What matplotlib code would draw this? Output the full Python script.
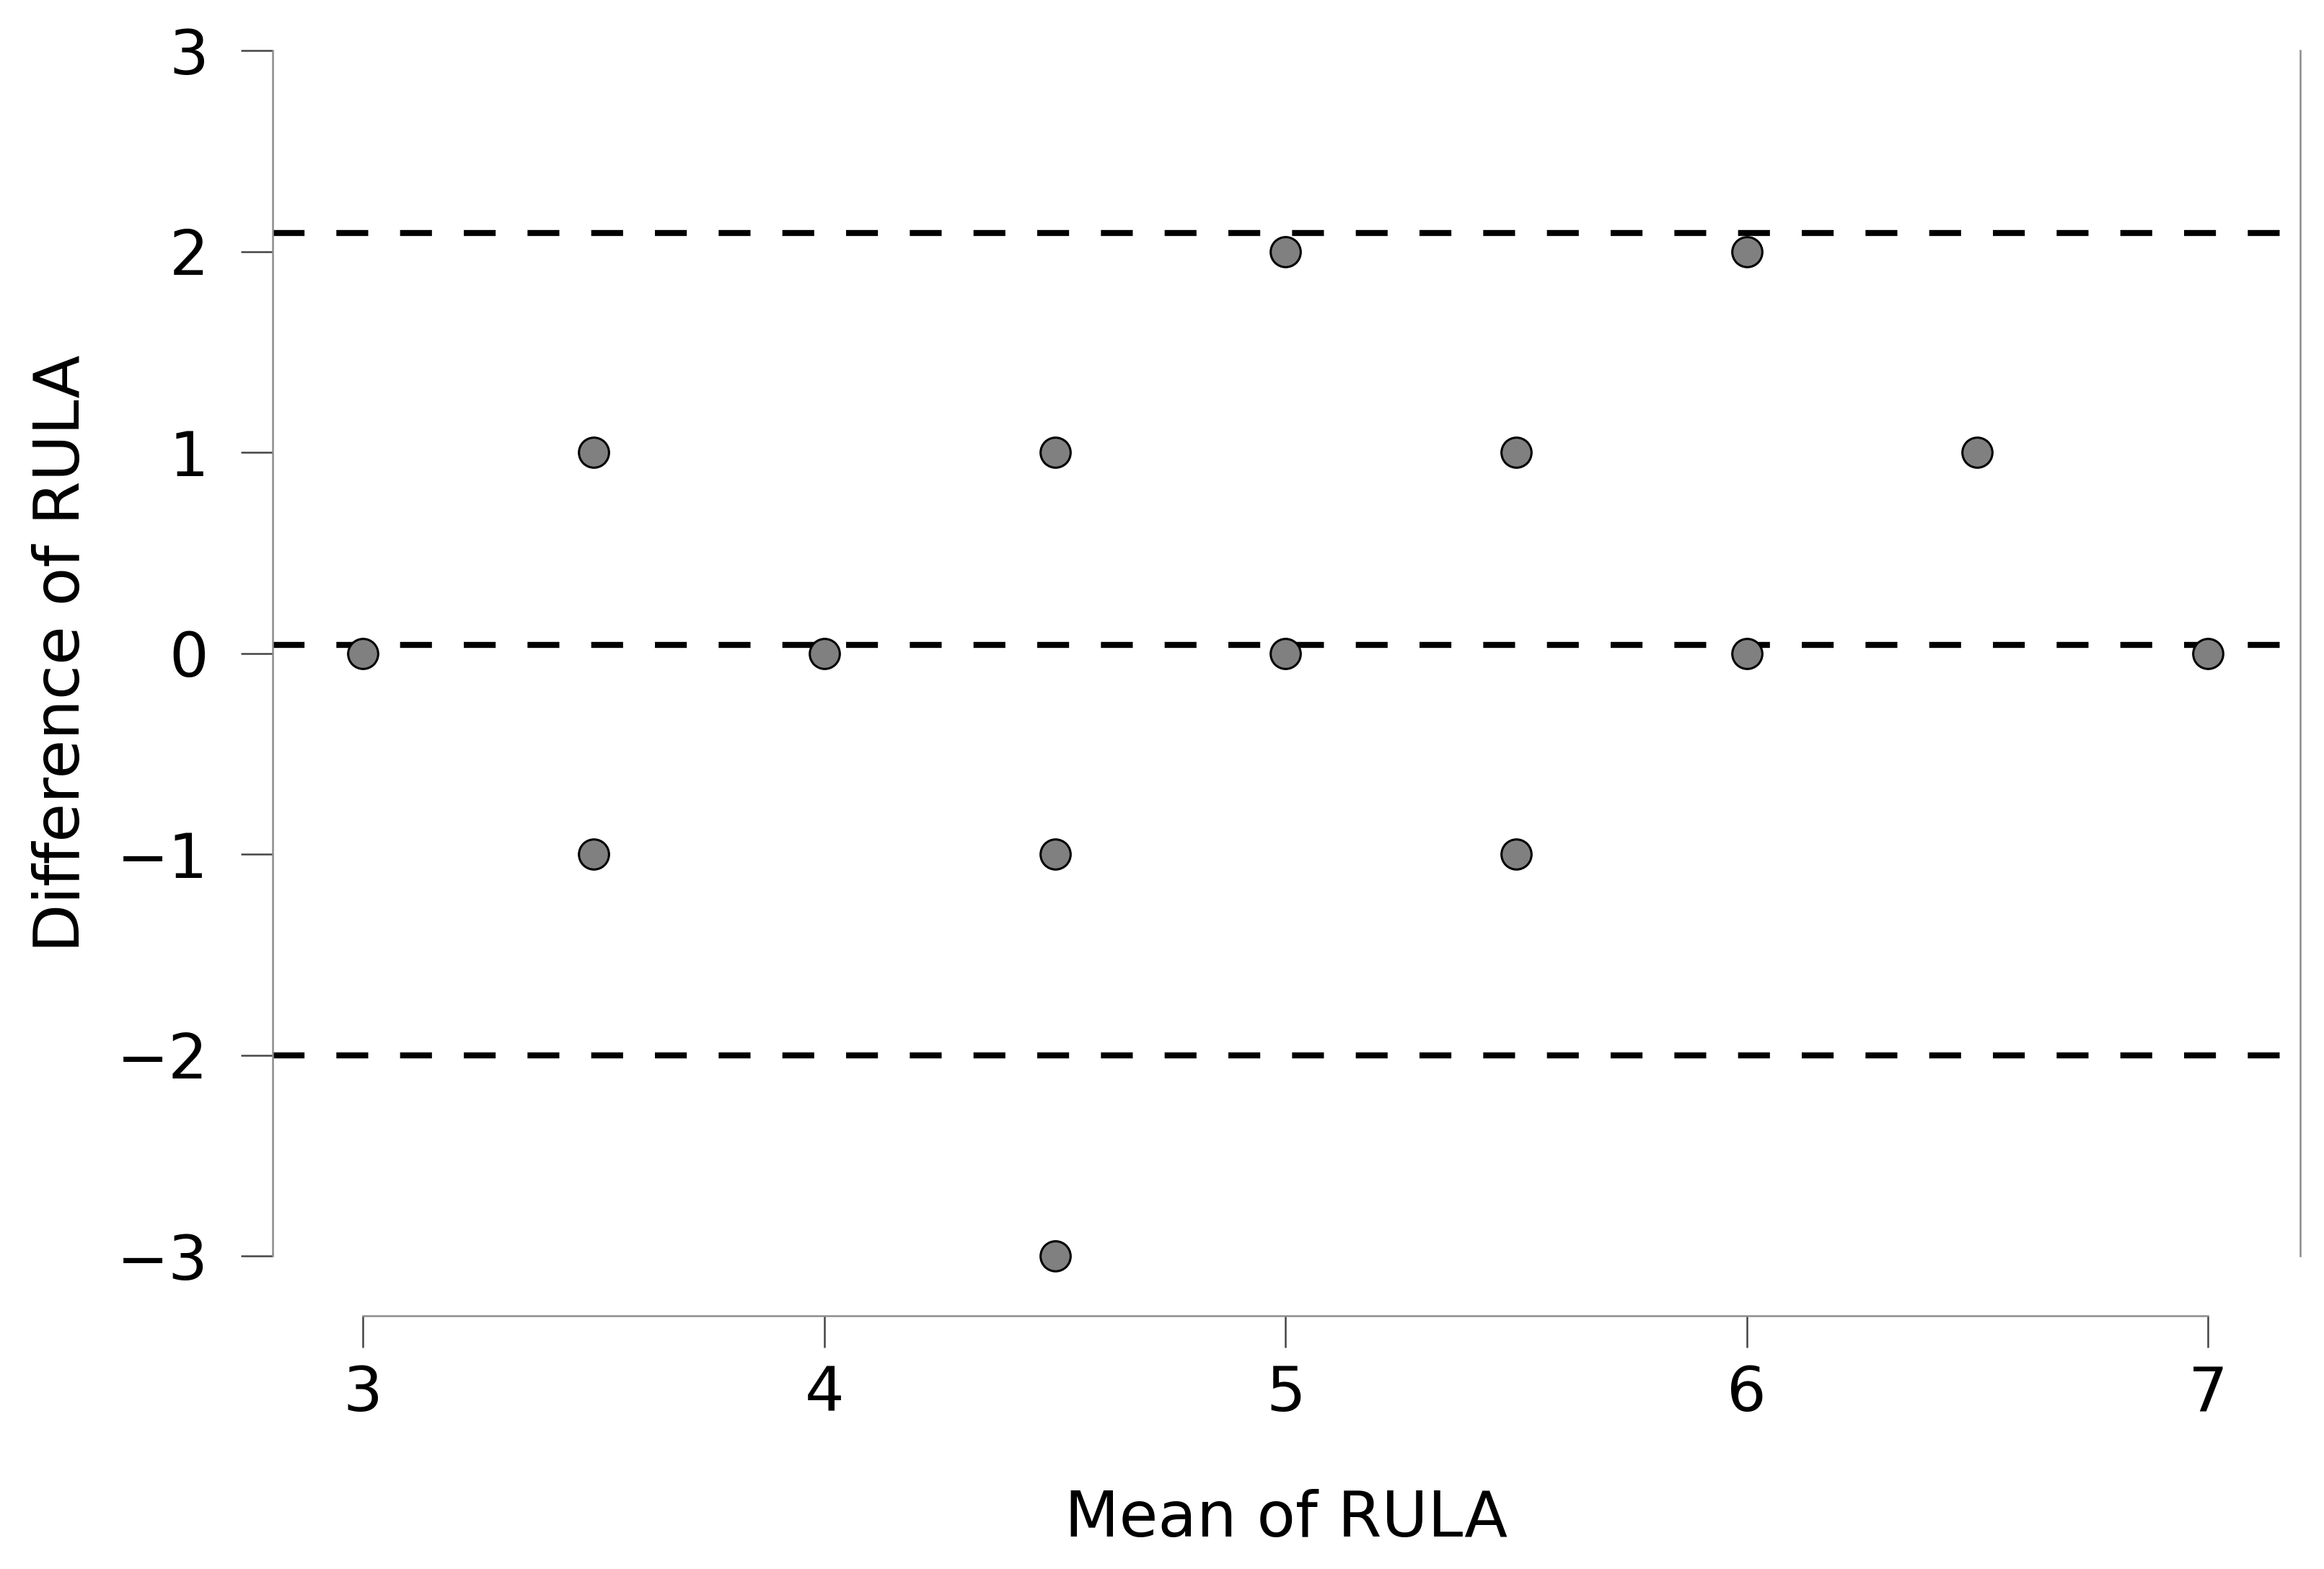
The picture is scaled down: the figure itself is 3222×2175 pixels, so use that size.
import matplotlib
matplotlib.use('Agg')
import matplotlib.pyplot as plt

# ---- data ----
mean_rula = [3.0, 3.5, 3.5, 4.0, 4.5, 4.5, 4.5, 5.0, 5.0, 5.5, 5.5, 6.0, 6.0, 6.5, 7.0]
diff_rula = [0, 1, -1, 0, 1, -1, -3, 2, 0, 1, -1, 2, 0, 1, 0]

bias = 0.04
upper_loa = 2.09
lower_loa = -2.00

x_ticks = [3, 4, 5, 6, 7]
y_ticks = [-3, -2, -1, 0, 1, 2, 3]

plt.rcParams['font.family'] = ['DejaVu Sans']

fig = plt.figure(figsize=(32.22, 21.75), dpi=100)
ax = fig.add_axes([0.1173, 0.1995, 0.9898 - 0.1173, 0.9678 - 0.1995])

# ---- limit lines ----
for yv in (upper_loa, bias, lower_loa):
    ax.axhline(yv, color='black', lw=6, dashes=(5.3, 5.3), zorder=2)

# ---- points ----
ax.scatter(mean_rula, diff_rula, s=900, c='#808080', edgecolors='black',
           linewidths=2.2, zorder=3, clip_on=False)

ax.set_xlim(2.804, 7.2)
ax.set_ylim(-3, 3)
ax.set_xticks(x_ticks)
ax.set_yticks(y_ticks)
ax.set_yticklabels([str(v).replace('-', '\u2212') for v in y_ticks])

# ---- spines ----
ax.spines['top'].set_visible(False)
ax.spines['left'].set_bounds(-3, 3)
ax.spines['left'].set_color('#8c8c8c')
ax.spines['left'].set_linewidth(1.8)
ax.spines['right'].set_color('#8c8c8c')
ax.spines['right'].set_linewidth(1.8)
ax.spines['bottom'].set_position(('outward', 60))
ax.spines['bottom'].set_bounds(3, 7)
ax.spines['bottom'].set_color('#8c8c8c')
ax.spines['bottom'].set_linewidth(1.8)

ax.tick_params(axis='both', which='major', length=32, width=1.8,
               color='#444444', labelsize=62)
ax.tick_params(axis='x', pad=16)
ax.tick_params(axis='y', pad=32, right=False)

ax.set_xlabel('Mean of RULA', fontsize=63)
ax.set_ylabel('Difference of RULA', fontsize=63)
ax.xaxis.set_label_coords(0.5, -0.2184)
ax.xaxis.label.set_va('center')
ax.yaxis.set_label_coords(-0.1039, 0.5)
ax.yaxis.label.set_va('center')

fig.savefig('out.png', dpi=100)
